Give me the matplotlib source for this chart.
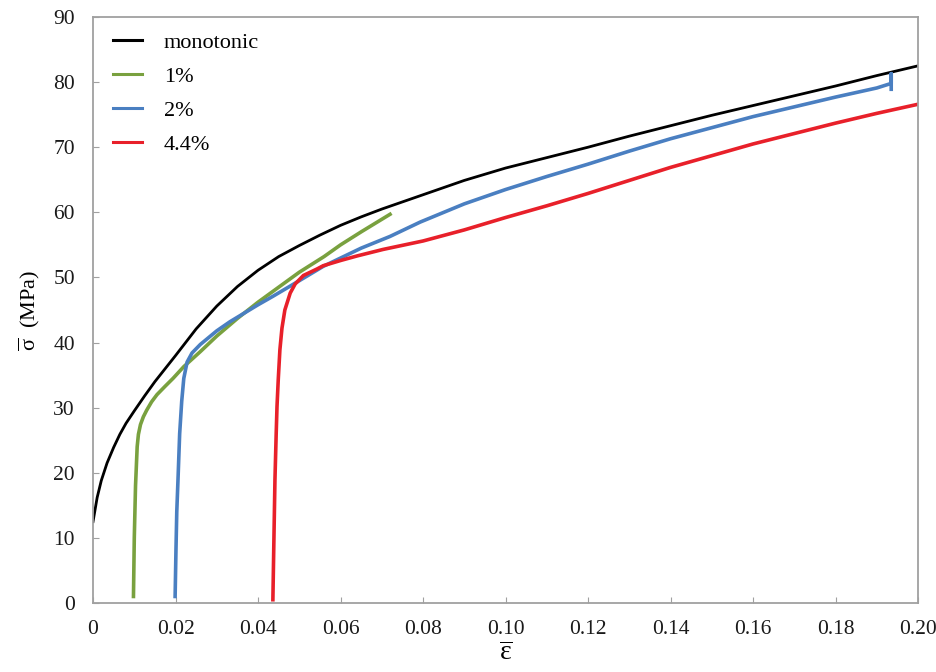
import matplotlib
matplotlib.use("Agg")
import matplotlib.pyplot as plt

plt.rcParams["font.family"] = ["Liberation Serif", "DejaVu Serif"]
plt.rcParams["mathtext.fontset"] = "custom"
plt.rcParams["mathtext.rm"] = "Liberation Serif"
plt.rcParams["mathtext.it"] = "Liberation Serif:italic"

# monotonic curve
mono_x = [0, 0.001, 0.002, 0.0034, 0.005, 0.0065, 0.008, 0.01, 0.0125, 0.015, 0.0175, 0.02,
          0.025, 0.03, 0.035, 0.04, 0.045, 0.05, 0.055, 0.06, 0.065, 0.07, 0.08, 0.09, 0.10,
          0.11, 0.12, 0.13, 0.14, 0.15, 0.16, 0.17, 0.18, 0.19, 0.20]
mono_y = [12.5, 16.2, 18.8, 21.5, 23.9, 25.9, 27.6, 29.5, 31.8, 34, 36, 38,
          42.1, 45.6, 48.6, 51.1, 53.2, 54.9, 56.5, 58, 59.3, 60.5, 62.7, 64.9, 66.8,
          68.4, 70.0, 71.7, 73.3, 74.9, 76.4, 77.9, 79.4, 81.0, 82.5]

# 1% prestrain
p1_x = [0.0098, 0.0100, 0.0103, 0.0107, 0.011, 0.0115, 0.0122, 0.013, 0.0142, 0.0155,
        0.0175, 0.0194, 0.022, 0.026, 0.03, 0.035, 0.04, 0.05, 0.056, 0.06, 0.065, 0.072]
p1_y = [1, 10, 18, 24, 25.9, 27.4, 28.6, 29.6, 30.9, 32,
        33.3, 34.5, 36.3, 38.6, 41, 43.7, 46.2, 50.8, 53.2, 55, 57, 59.7]

# 2% prestrain
p2_x = [0.0199, 0.0201, 0.0203, 0.0206, 0.021, 0.0215, 0.022, 0.0228, 0.024, 0.026, 0.03,
        0.0332, 0.04, 0.0436, 0.05, 0.0558, 0.065, 0.072, 0.0793, 0.09, 0.10, 0.11, 0.12,
        0.13, 0.14, 0.15, 0.16, 0.17, 0.18, 0.19, 0.1935, 0.1935, 0.1935]
p2_y = [1, 8, 14, 19, 26, 31, 34.5, 37, 38.4, 39.7, 41.8,
        43.2, 45.8, 47.1, 49.5, 51.7, 54.5, 56.3, 58.5, 61.3, 63.5, 65.5, 67.4,
        69.4, 71.3, 73.0, 74.7, 76.2, 77.7, 79.1, 79.8, 81.3, 78.9]

# 4.4% prestrain
p4_x = [0.0436, 0.0438, 0.0441, 0.0444, 0.0446, 0.0449, 0.0453, 0.0458, 0.0465, 0.0478,
        0.049, 0.051, 0.0543, 0.0558, 0.06, 0.064, 0.0703, 0.08, 0.09, 0.10, 0.11, 0.12,
        0.13, 0.14, 0.15, 0.16, 0.17, 0.18, 0.19, 0.20]
p4_y = [0.5, 8, 18.9, 26, 30.2, 34.3, 38.9, 42.2, 45, 47.6,
        49, 50.3, 51.3, 51.8, 52.6, 53.3, 54.3, 55.6, 57.3, 59.2, 61.0, 62.9,
        64.9, 66.9, 68.7, 70.5, 72.1, 73.7, 75.2, 76.6]

xticks = [0, 0.02, 0.04, 0.06, 0.08, 0.10, 0.12, 0.14, 0.16, 0.18, 0.20]
xtick_labels = ["0", "0.02", "0.04", "0.06", "0.08", "0.10", "0.12", "0.14", "0.16", "0.18", "0.20"]
yticks = [0, 10, 20, 30, 40, 50, 60, 70, 80, 90]

fig = plt.figure(figsize=(9.36, 6.72), dpi=100)
ax = fig.add_axes([0.0994, 0.1027, 0.8814, 0.872])

ax.plot(mono_x, mono_y, color="black", lw=2.0, label="monotonic")
ax.plot(p1_x, p1_y, color="#79a13f", lw=2.6, label="1%")
ax.plot(p2_x, p2_y, color="#4a7fc1", lw=2.6, label="2%")
ax.plot(p4_x, p4_y, color="#e8202a", lw=2.6, label="4.4%")

ax.set_xlim(0, 0.20)
ax.set_ylim(0, 90)
ax.set_xticks(xticks)
ax.set_xticklabels(xtick_labels)
ax.set_yticks(yticks)

for s in ax.spines.values():
    s.set_color("#a0a0a0")
    s.set_linewidth(1.3)
ax.tick_params(direction="in", length=4, color="#a0a0a0", labelsize=15.5,
               labelcolor="#1a1a1a")
ax.tick_params(axis="y", pad=13)
ax.tick_params(axis="x", pad=12)

ax.set_xlabel(r"$\overline{\mathrm{\varepsilon}}$", fontsize=20, labelpad=2)
ax.set_ylabel(r"$\overline{\mathrm{\sigma}}$  (MPa)", fontsize=16, labelpad=8)

leg = ax.legend(loc="upper left", frameon=False, fontsize=16, handlelength=1.3,
                handletextpad=1.0, labelspacing=0.6, borderaxespad=0.3,
                bbox_to_anchor=(0.005, 1.0))
for line in leg.get_lines():
    line.set_linewidth(2.2)

fig.savefig("out.png", dpi=100)
